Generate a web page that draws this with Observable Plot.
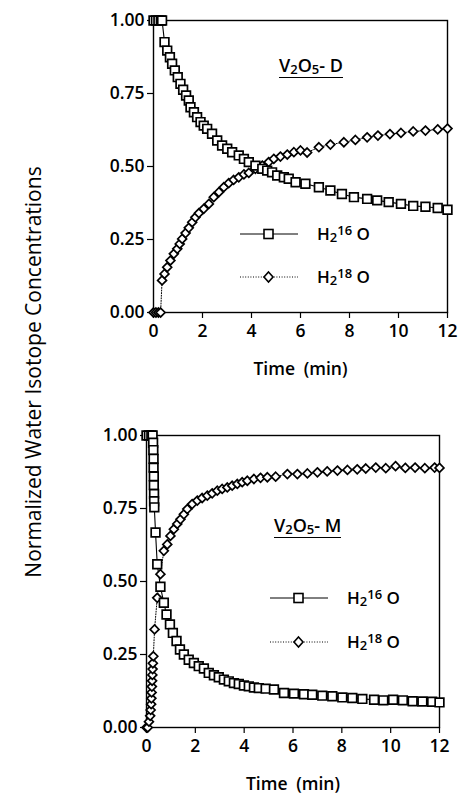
<!DOCTYPE html>
<html><head><meta charset="utf-8">
<script src="https://cdn.jsdelivr.net/npm/d3@7"></script>
<script src="https://cdn.jsdelivr.net/npm/@observablehq/plot@0.6"></script>
<style>
body{margin:0;background:#fff;}
#wrap{position:relative;width:459px;height:804px;font-family:"Open Sans",sans-serif;color:#000;overflow:hidden;}
.plot{position:absolute;left:0;}
.ylab{position:absolute;left:33px;top:372px;transform:translate(-50%,-50%) rotate(-90deg);white-space:nowrap;font-size:21px;font-weight:400;}
.leg{position:absolute;display:flex;align-items:center;height:20px;white-space:nowrap;}
.leg svg{display:block;}
.leg .txt{font-size:17px;font-weight:600;line-height:20px;}
.sup{font-size:13px;position:relative;top:-5px;}
.sub{font-size:13px;position:relative;top:2px;}
.tag{position:absolute;font-size:18px;font-weight:600;border-bottom:1.5px solid #000;line-height:20px;white-space:nowrap;}
</style></head><body><div id="wrap"></div>
<script>
// ---- data (time in min, normalized concentration) ----
const xTicks = [0, 2, 4, 6, 8, 10, 12];
const yTicks = [0, 0.25, 0.5, 0.75, 1];

// V2O5-D, H2 16O
const dTime16 = [0,0.1,0.2,0.3,0.35,0.45,0.56,0.67,0.76,0.87,0.99,1.10,1.21,1.33,1.44,1.51,1.65,1.78,1.92,2.05,2.19,2.39,2.60,2.80,3.01,3.21,3.48,3.69,3.89,4.16,4.44,4.64,4.84,5.05,5.32,5.52,5.80,6.20,6.75,7.22,7.69,8.18,8.72,9.13,9.6,10.1,10.6,11.1,11.6,12.0];
const dConc16 = [1,1,1,1,1,0.926,0.897,0.874,0.852,0.829,0.806,0.783,0.763,0.743,0.726,0.703,0.686,0.669,0.652,0.640,0.629,0.612,0.589,0.572,0.561,0.549,0.538,0.526,0.515,0.503,0.492,0.486,0.480,0.469,0.463,0.458,0.446,0.441,0.429,0.418,0.406,0.395,0.389,0.384,0.378,0.372,0.365,0.362,0.358,0.352];
// V2O5-D, H2 18O
const dTime18 = [0,0.1,0.2,0.29,0.35,0.45,0.56,0.69,0.83,0.97,1.07,1.17,1.31,1.44,1.58,1.71,1.85,2.05,2.26,2.46,2.67,2.87,3.07,3.27,3.48,3.69,3.89,4.16,4.44,4.70,4.91,5.18,5.46,5.73,6.0,6.27,6.75,7.22,7.77,8.24,8.72,9.16,9.65,10.1,10.6,11.1,11.6,12.0];
const dConc18 = [0,0,0,0,0.11,0.132,0.155,0.178,0.201,0.218,0.235,0.252,0.272,0.290,0.309,0.326,0.340,0.355,0.372,0.395,0.412,0.429,0.443,0.454,0.463,0.473,0.478,0.492,0.503,0.515,0.526,0.534,0.541,0.549,0.555,0.548,0.566,0.575,0.583,0.591,0.600,0.606,0.611,0.615,0.620,0.623,0.627,0.630];

// V2O5-M, H2 16O
const mTime16 = [0,0.1,0.2,0.25,0.27,0.28,0.29,0.29,0.3,0.3,0.31,0.31,0.32,0.37,0.44,0.57,0.71,0.82,0.96,1.08,1.23,1.37,1.53,1.73,1.94,2.14,2.35,2.55,2.76,2.96,3.17,3.37,3.58,3.78,3.99,4.19,4.40,4.60,4.88,5.22,5.63,6.04,6.45,6.79,7.20,7.61,8.02,8.43,8.84,9.32,9.7,10.1,10.5,10.9,11.3,11.7,12.0];
const mConc16 = [1,1,1,1,0.975,0.95,0.92,0.89,0.86,0.83,0.80,0.775,0.754,0.668,0.559,0.482,0.427,0.387,0.353,0.324,0.296,0.267,0.250,0.232,0.221,0.210,0.202,0.187,0.179,0.172,0.164,0.158,0.152,0.149,0.144,0.141,0.137,0.135,0.133,0.130,0.118,0.116,0.114,0.112,0.109,0.107,0.103,0.101,0.098,0.095,0.093,0.095,0.093,0.090,0.089,0.088,0.086];
// V2O5-M, H2 18O
const mTime18 = [0,0.05,0.1,0.15,0.17,0.19,0.2,0.21,0.22,0.23,0.24,0.25,0.26,0.28,0.33,0.44,0.57,0.71,0.85,0.98,1.12,1.26,1.39,1.53,1.67,1.87,2.08,2.28,2.49,2.69,2.90,3.10,3.31,3.51,3.72,3.92,4.13,4.40,4.67,4.95,5.29,5.77,6.18,6.59,7.0,7.40,7.82,8.23,8.63,8.98,9.39,9.8,10.2,10.6,11.0,11.4,11.8,12.0];
const mConc18 = [0,0,0.02,0.04,0.06,0.08,0.10,0.12,0.14,0.16,0.18,0.20,0.22,0.244,0.336,0.444,0.525,0.605,0.627,0.656,0.679,0.697,0.713,0.730,0.748,0.765,0.777,0.786,0.794,0.802,0.811,0.817,0.822,0.828,0.834,0.840,0.845,0.851,0.855,0.857,0.859,0.868,0.868,0.870,0.874,0.877,0.880,0.882,0.884,0.887,0.890,0.888,0.895,0.889,0.890,0.888,0.890,0.889];

const yLabel = "Normalized Water Isotope Concentrations";
const xLabel = "Time\u2002(min)";

function panel(t16, c16, t18, c18, marginLeft, marginRight) {
  const d16 = t16.map((t, i) => ({t, v: c16[i]}));
  const d18 = t18.map((t, i) => ({t, v: c18[i]}));
  return Plot.plot({
    width: 459, height: 400,
    marginTop: 20, marginBottom: 88, marginLeft, marginRight,
    x: {domain: [0, 12]},
    y: {domain: [0, 1]},
    style: {fontFamily: "'Open Sans', sans-serif", fontSize: "17.5px", fontWeight: 600, color: "#000", background: "transparent", overflow: "visible"},
    marks: [
      Plot.axisX({ticks: xTicks, tickSize: 6, tickPadding: 6, tickFormat: d => String(d), label: xLabel, labelAnchor: "center", labelArrow: "none", labelOffset: 62, strokeWidth: 1.2, fontSize: 17.5}),
      Plot.axisY({ticks: yTicks, tickSize: 6, tickPadding: 3, tickFormat: d3.format(".2f"), label: null, strokeWidth: 1.2, fontSize: 17.5}),
      Plot.frame({stroke: "#000", strokeWidth: 1.4}),
      Plot.line(d18, {x: "t", y: "v", stroke: "#000", strokeWidth: 1, strokeDasharray: "1,1.6"}),
      Plot.line(d16, {x: "t", y: "v", stroke: "#000", strokeWidth: 1.1}),
      Plot.dot(d18, {x: "t", y: "v", symbol: "diamond2", r: 4, fill: "white", stroke: "#000", strokeWidth: 1.7}),
      Plot.dot(d16, {x: "t", y: "v", symbol: "square", r: 4.9, fill: "white", stroke: "#000", strokeWidth: 1.7})
    ]
  });
}

const wrap = document.getElementById("wrap");
const p1 = panel(dTime16, dConc16, dTime18, dConc18, 153, 12);
p1.classList.add("plot"); p1.style.top = "0px";
const p2 = panel(mTime16, mConc16, mTime18, mConc18, 146, 20);
p2.classList.add("plot"); p2.style.top = "415px";
wrap.appendChild(p1); wrap.appendChild(p2);

const yl = document.createElement("div");
yl.className = "ylab"; yl.textContent = yLabel; wrap.appendChild(yl);

function tag(x, y, letter) {
  const d = document.createElement("div");
  d.className = "tag"; d.style.left = x + "px"; d.style.top = y + "px";
  d.innerHTML = 'V<span class="sub">2</span>O<span class="sub">5</span>- ' + letter;
  wrap.appendChild(d);
}
function legend(x, y, sym, dotted, iso) {
  const d = document.createElement("div");
  d.className = "leg"; d.style.left = x + "px"; d.style.top = (y - 10) + "px";
  const mark = sym === "square"
    ? '<rect x="24" y="5.5" width="9" height="9" fill="white" stroke="black" stroke-width="1.6"/>'
    : '<path d="M28.5 5 L33 10 L28.5 15 L24 10 Z" fill="white" stroke="black" stroke-width="1.6"/>';
  const line = '<line x1="0" x2="58" y1="10" y2="10" stroke="black" stroke-width="1" ' + (dotted ? 'stroke-dasharray="1,1.6"' : '') + '/>';
  d.innerHTML = '<svg width="58" height="20">' + line + mark + '</svg><span style="display:inline-block;width:19px"></span>' +
    '<span class="txt">H<span class="sub">2</span><span class="sup">' + iso + '</span> O</span>';
  wrap.appendChild(d);
}
tag(279, 55, "D");
legend(240, 234, "square", false, "16");
legend(240, 277, "diamond", true, "18");
tag(274, 515, "M");
legend(270, 598, "square", false, "16");
legend(270, 642, "diamond", true, "18");
</script>
</body></html>
